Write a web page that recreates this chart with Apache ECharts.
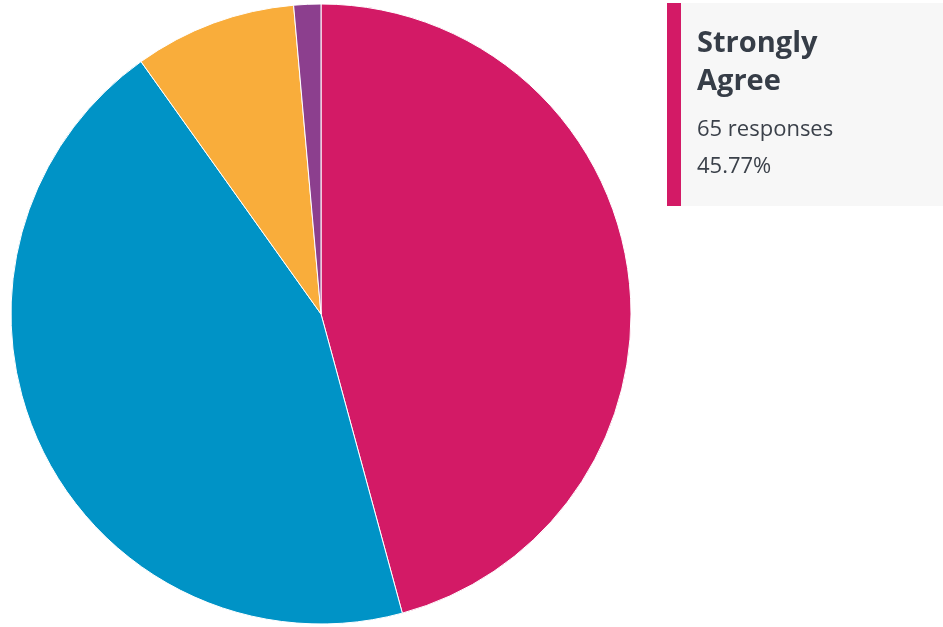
<!DOCTYPE html>
<html>
<head>
<meta charset="utf-8">
<style>
  html, body { margin: 0; padding: 0; background: #ffffff; }
  #chart { width: 943px; height: 627px; }
</style>
<script src="https://cdn.jsdelivr.net/npm/echarts@6/dist/echarts.min.js"></script>
</head>
<body>
<div id="chart"></div>
<script>
// Survey answers and response counts
const categories = ['Strongly Agree', 'Agree', 'Disagree', 'Strongly Disagree'];
const responses = [65, 63, 12, 2];
const sliceColors = ['#d31a66', '#0093c6', '#f9ad3b', '#8c3f8e'];

// Index of the answer shown in the detail card
const highlighted = 0;

const total = responses.reduce((a, b) => a + b, 0);
const pct = (responses[highlighted] / total * 100).toFixed(2) + '%';

const chart = echarts.init(document.getElementById('chart'), null, { renderer: 'canvas' });

chart.setOption({
  animation: false,
  series: [{
    type: 'pie',
    center: [321, 314],
    radius: [0, 310],
    startAngle: 90,
    clockwise: true,
    label: { show: false },
    labelLine: { show: false },
    itemStyle: { borderColor: '#ffffff', borderWidth: 1 },
    emphasis: { disabled: true },
    data: categories.map((name, i) => ({
      name,
      value: responses[i],
      itemStyle: { color: sliceColors[i] }
    }))
  }],
  graphic: [{
    type: 'group',
    left: 667,
    top: 3,
    children: [
      { type: 'rect', shape: { x: 0, y: 0, width: 276, height: 203 }, style: { fill: '#f7f7f7' } },
      { type: 'rect', shape: { x: 0, y: 0, width: 14, height: 203 }, style: { fill: sliceColors[highlighted] } },
      {
        type: 'text', x: 30, y: 22,
        style: {
          text: categories[highlighted].replace(' ', '\n'),
          font: 'bold 29px "Open Sans"',
          lineHeight: 38,
          fill: '#363d47'
        }
      },
      {
        type: 'text', x: 30, y: 116,
        style: { text: responses[highlighted] + ' responses', font: '22px "Open Sans"', fill: '#3b414a' }
      },
      {
        type: 'text', x: 30, y: 153,
        style: { text: pct, font: '22px "Open Sans"', fill: '#3b414a' }
      }
    ]
  }]
});
</script>
</body>
</html>
